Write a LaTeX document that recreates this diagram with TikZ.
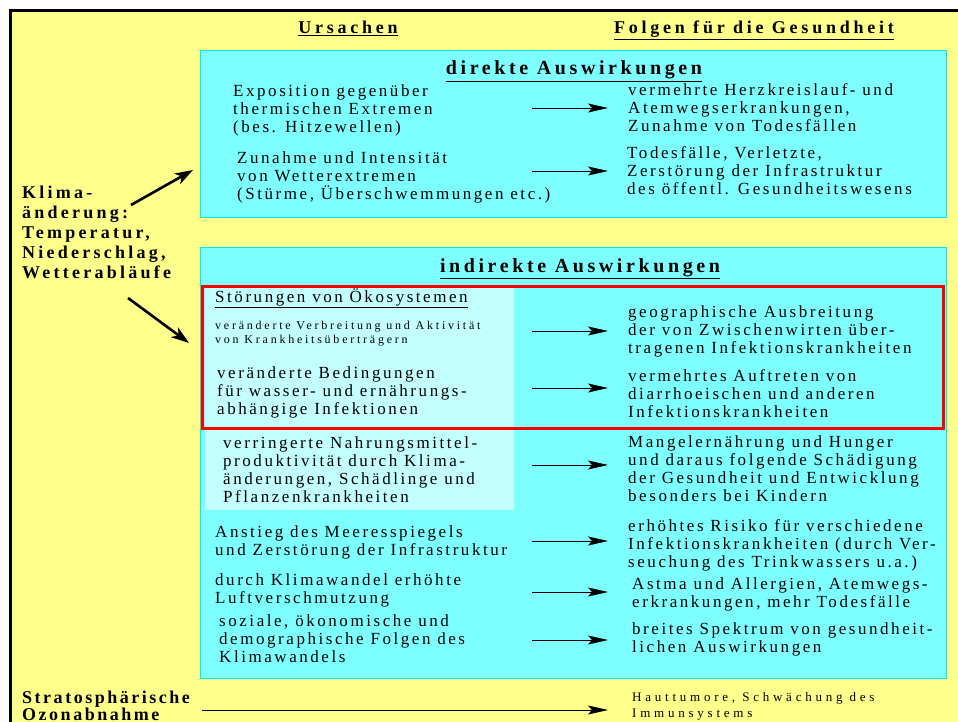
\documentclass[tikz,border=0pt]{standalone}
\usepackage{fontspec}
\setmainfont{Liberation Serif}[LetterSpace=15]
\usetikzlibrary{calc, arrows.meta, positioning}

% colours of the chart
\definecolor{bgyellow}{RGB}{255,255,140}
\definecolor{boxcyan}{RGB}{125,255,255}
\definecolor{lightcyan}{RGB}{195,255,255}
\definecolor{cyanline}{RGB}{0,235,235}

% font sizes
\newcommand{\txtn}{\fontsize{17}{18}\selectfont}
\newcommand{\txts}{\fontsize{12}{13.5}\selectfont\addfontfeature{LetterSpace=23}}
\newcommand{\txth}{\fontsize{18}{20}\selectfont\bfseries\addfontfeature{LetterSpace=21}}
\newcommand{\txtt}{\fontsize{20}{22}\selectfont\bfseries\addfontfeature{LetterSpace=18}}

% every text block is placed by the baseline of its last line
\tikzset{
    txtblock/.style={anchor=base west, align=left, inner sep=0pt, font=\txtn},
    smallblock/.style={txtblock, font=\txts},
    headline/.style={anchor=base, inner sep=0pt, font=\txth},
    boxtitle/.style={anchor=base, inner sep=0pt, font=\txtt},
    sidelabel/.style={anchor=base west, align=left, inner sep=0pt, font=\fontsize{18}{20}\selectfont\bfseries\addfontfeature{LetterSpace=18}},
    arr/.style={-{Stealth[length=20pt,width=9pt,inset=4pt]}, line width=0.8pt},
    bigarr/.style={-{Stealth[length=18pt,width=12pt,inset=5pt]}, line width=2.6pt},
}

\begin{document}
\begin{tikzpicture}[x=1pt, y=-1pt]
    \useasboundingbox (0,0) rectangle (958,722);

    % Background and frame
    \fill[white] (0,0) rectangle (958,722);
    \fill[bgyellow] (10,10) rectangle (958,722);
    \draw[line width=3pt] (10.5,722) -- (10.5,10.5) -- (958,10.5);

    % Boxes
    \draw[cyanline, fill=boxcyan] (200,50) rectangle (946,217);
    \draw[cyanline, fill=boxcyan] (200,247) rectangle (946,678);
    \fill[lightcyan] (205,286) rectangle (514,510);
    \draw[red, line width=3pt] (202,286) rectangle (943,428);

    % Column heads
    \node[headline] (ursachen) at (348,34) {\underline{Ursachen}};
    \node[headline] (folgen) at (754,34) {\underline{Folgen für die Gesundheit}};

    % direkte Auswirkungen
    \node[boxtitle] (direkt) at (574,75) {\underline{direkte Auswirkungen}};
    \node[txtblock] (c1) at (233,133) {Exposition gegenüber\\thermischen Extremen\\(bes. Hitzewellen)};
    \node[txtblock] (c2) at (237,200) {Zunahme und Intensität\\von Wetterextremen\\(Stürme, Überschwemmungen etc.)};
    \node[txtblock] (e1) at (628,132) {vermehrte Herzkreislauf- und\\Atemwegserkrankungen,\\Zunahme von Todesfällen};
    \node[txtblock] (e2) at (627,195) {Todesfälle, Verletzte,\\Zerstörung der Infrastruktur\\des öffentl. Gesundheitswesens};

    % indirekte Auswirkungen
    \node[boxtitle] (indirekt) at (580,272) {\underline{indirekte Auswirkungen}};
    \node[txtblock] (oeko) at (215,302) {\underline{Störungen von Ökosystemen}};
    \node[smallblock] (c3) at (215,343) {veränderte Verbreitung und Aktivität\\von Krankheitsüberträgern};
    \node[txtblock] (c4) at (217,414) {veränderte Bedingungen\\für wasser- und ernährungs-\\abhängige Infektionen};
    \node[txtblock] (c5) at (223,502) {verringerte Nahrungsmittel-\\produktivität durch Klima-\\änderungen, Schädlinge und\\Pflanzenkrankheiten};
    \node[txtblock] (c6) at (215,555) {Anstieg des Meeresspiegels\\und Zerstörung der Infrastruktur};
    \node[txtblock] (c7) at (215,603) {durch Klimawandel erhöhte\\Luftverschmutzung};
    \node[txtblock] (c8) at (219,662) {soziale, ökonomische und\\demographische Folgen des\\Klimawandels};

    \node[txtblock] (e3) at (628,353) {geographische Ausbreitung\\der von Zwischenwirten über-\\tragenen Infektionskrankheiten};
    \node[txtblock] (e4) at (628,417) {vermehrtes Auftreten von\\diarrhoeischen und anderen\\Infektionskrankheiten};
    \node[txtblock] (e5) at (628,501) {Mangelernährung und Hunger\\und daraus folgende Schädigung\\der Gesundheit und Entwicklung\\besonders bei Kindern};
    \node[txtblock] (e6) at (628,567) {erhöhtes Risiko für verschiedene\\Infektionskrankheiten (durch Ver-\\seuchung des Trinkwassers u.a.)};
    \node[txtblock] (e7) at (632,607) {Astma und Allergien, Atemwegs-\\erkrankungen, mehr Todesfälle};
    \node[txtblock] (e8) at (632,652) {breites Spektrum von gesundheit-\\lichen Auswirkungen};

    % Arrows from causes to effects
    \foreach \n/\y in {1/108, 2/171, 3/331, 4/388, 5/465, 6/541, 7/592, 8/640}{
        \coordinate (s\n) at (532,\y);
        \coordinate (t\n) at (608,\y);
        \draw[arr] (s\n) -- (t\n);
    }

    % Left side: climate change
    \node[sidelabel] (klima) at (22,278) {Klima-\\änderung:\\Temperatur,\\Niederschlag,\\Wetterabläufe};
    \coordinate (kup) at (131,205);
    \coordinate (kdown) at (128,298);
    \coordinate (direktin) at (193,170);
    \coordinate (indirektin) at (189,343);
    \draw[bigarr] (kup) -- (direktin);
    \draw[bigarr] (kdown) -- (indirektin);

    % Bottom: ozone
    \node[sidelabel, font=\fontsize{18}{17}\selectfont\bfseries\addfontfeature{LetterSpace=14}] (ozon) at (22,720) {Stratosphärische\\Ozonabnahme};
    \node[txtblock, font=\fontsize{13}{16}\selectfont\addfontfeature{LetterSpace=29}] (haut) at (632,717) {Hauttumore, Schwächung des\\Immunsystems};
    \coordinate (s9) at (202,710);
    \coordinate (t9) at (608,710);
    \draw[arr] (s9) -- (t9);
\end{tikzpicture}
\end{document}
